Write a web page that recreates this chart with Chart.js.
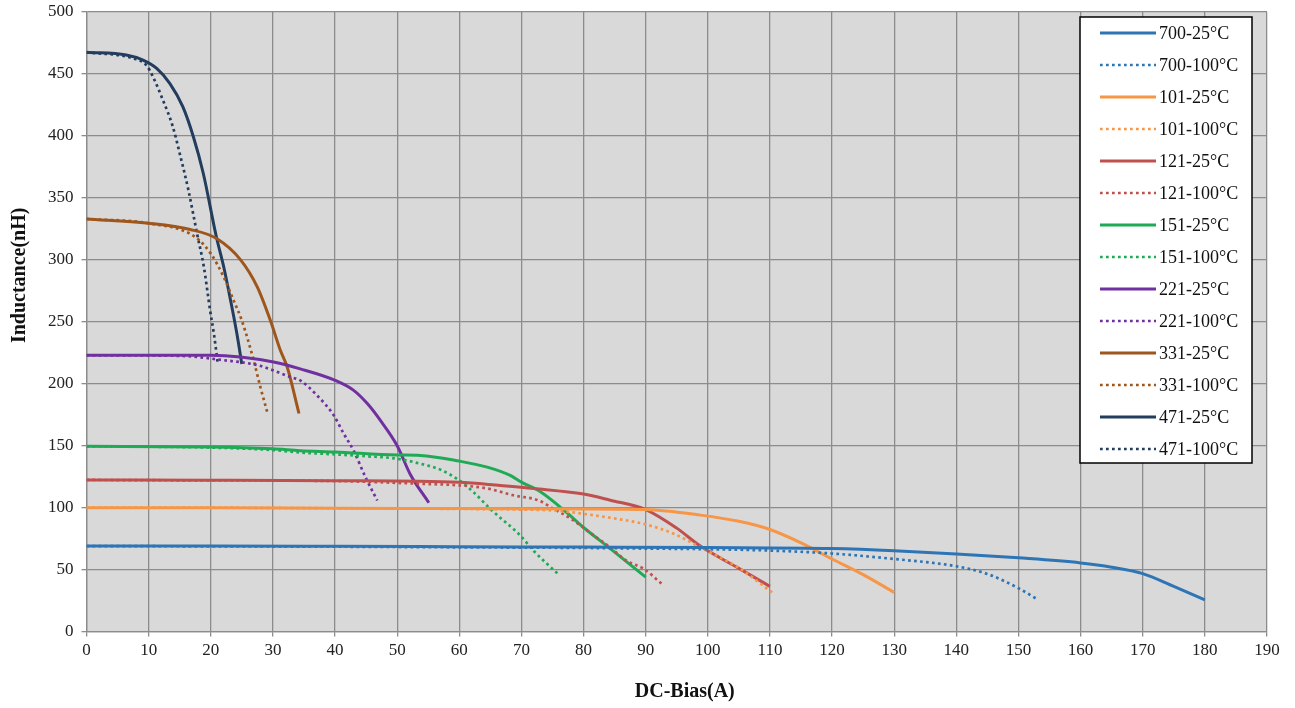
<!DOCTYPE html>
<html>
<head>
<meta charset="utf-8">
<style>
  html, body { margin: 0; padding: 0; background: #ffffff; }
  #wrap { width: 1295px; height: 708px; }
</style>
<script src="https://cdn.jsdelivr.net/npm/chart.js@4.4.1/dist/chart.umd.min.js"></script>
</head>
<body>
<div id="wrap"><canvas id="c" width="1295" height="708"></canvas></div>
<script>
// ---- Data ----
const seriesNames = ["700-25°C","700-100°C","101-25°C","101-100°C","121-25°C","121-100°C",
                     "151-25°C","151-100°C","221-25°C","221-100°C","331-25°C","331-100°C",
                     "471-25°C","471-100°C"];

const bias700_25 = [0,20,40,60,80,100,120,130,140,150,160,165,170,175,180];
const ind700_25  = [69,69,68.8,68.5,68.2,67.8,67,65.3,62.7,59.5,55.4,52,46.8,36.5,25.7];
const bias700_100 = [0,20,40,60,80,90,100,110,120,130,140,145,150,153];
const ind700_100  = [69,68.8,68.5,68,67.5,67,66.5,65.4,63,58.6,52.7,46.5,35,26.2];

const bias101_25 = [0,20,40,60,80,90,98.8,105,110,115,120,125,130];
const ind101_25  = [100,100,99.5,99.3,99,98.5,94,89,82.4,71.6,58.6,46,31.6];
const bias101_100 = [0,20,40,60,70,76,80,85.4,89.6,94.5,98.8,105,110.5];
const ind101_100  = [100,100,99.5,99,98.5,97.5,95,91,87,79,68,51.4,31];

const bias121_25 = [0,20,40,60,66.6,72,80,84.3,90,95,98.8,105,110];
const ind121_25  = [122.4,122.2,121.8,120.5,117.9,115.5,111,106,98.5,83.5,69,51,36.5];
const bias121_100 = [0,20,40,53.7,60,64.5,68.7,72.8,75.2,78,81,84,87,89.7,92.6];
const ind121_100  = [122.4,122,121.5,119.3,118,115.5,110,105.8,99,91,80,69,57,50.6,38.5];

const bias151_25 = [0,20,30,34.4,40,50,53.7,60,64.5,68.2,70,73,77.3,80,84.3,90];
const ind151_25  = [149.5,149,147.5,146,145,142.5,142.2,137.6,132.7,126,120.6,113,96,84,67,44];
const bias151_100 = [0,20,30,34.4,40,45,50,53.7,57,60,62.3,65,67.1,69,70.1,72,76];
const ind151_100  = [149.5,148.5,146.5,144.5,143,141.5,139.5,135.5,130.6,122,112.5,99,89.7,81.6,76,65,46];

const bias221_25 = [0,20,24.8,30.1,34.4,40,43,45.2,47.3,50,52.1,55.1];
const ind221_25  = [223,223,221.6,217.5,212,202.8,194.7,184,170.4,150,127,104];
const bias221_100 = [0,15,22.1,27.5,32.8,34.4,37.1,39.8,41.4,43,44.9,46.8];
const ind221_100  = [223,222.5,219,215,205.5,202.7,190.6,174.5,159.7,146,124.6,105.8];

const bias331_25 = [0,10,16.7,21,24.8,27.5,29.6,31.2,32.3,34.2];
const ind331_25  = [333,329.5,324.5,317,300,278,251,227,213.5,176];
const bias331_100 = [0,10,17.5,20,22.1,23.7,25,26.9,28,29.1];
const ind331_100  = [333,329.5,318.5,305,286,267,251,219,197,177];

const bias471_25 = [0,6.4,9.1,11.3,13.4,15.5,17.2,18.8,20.9,22.1,23.2,24.2,25];
const ind471_25  = [467.5,465.3,461.2,454.5,442.4,423.6,399.3,369.7,318.6,294,267,240.5,216];
const bias471_100 = [0,7.5,9.65,10.7,12.3,13.9,15,16.4,17.8,18.9,19.9,20.5,21.1];
const ind471_100  = [467.5,462.6,457,447.7,428.9,407.4,385.9,356.3,321,294,259,240.5,217.5];

const xTicks = [0,10,20,30,40,50,60,70,80,90,100,110,120,130,140,150,160,170,180,190];
const yTicks = [0,50,100,150,200,250,300,350,400,450,500];
const xTitle = "DC-Bias(A)";
const yTitle = "Inductance(nH)";

// ---- Styles ----
const colors = ["#2E75B6","#2E75B6","#F79646","#F79646","#C0504D","#C0504D",
                "#1FAA55","#1FAA55","#7030A0","#7030A0","#9E561C","#9E561C",
                "#233D5E","#233D5E"];

const xs = [bias700_25,bias700_100,bias101_25,bias101_100,bias121_25,bias121_100,
            bias151_25,bias151_100,bias221_25,bias221_100,bias331_25,bias331_100,
            bias471_25,bias471_100];
const ys = [ind700_25,ind700_100,ind101_25,ind101_100,ind121_25,ind121_100,
            ind151_25,ind151_100,ind221_25,ind221_100,ind331_25,ind331_100,
            ind471_25,ind471_100];

const datasets = seriesNames.map((name, i) => {
  const dotted = i % 2 === 1;
  return {
    label: name,
    data: xs[i].map((x, k) => ({ x: x, y: ys[i][k] })),
    showLine: true,
    borderColor: colors[i],
    backgroundColor: colors[i],
    borderWidth: dotted ? 2.7 : 3,
    borderDash: dotted ? [2.7, 3.3] : [],
    pointRadius: 0,
    pointHoverRadius: 0,
    cubicInterpolationMode: 'monotone',
    fill: false
  };
});

const serif = "'Liberation Serif', 'DejaVu Serif', serif";

const bgPlugin = {
  id: 'plotBg',
  beforeDraw(chart) {
    const a = chart.chartArea, ctx = chart.ctx;
    ctx.save();
    ctx.fillStyle = '#D9D9D9';
    ctx.fillRect(a.left, a.top, a.right - a.left, a.bottom - a.top);
    ctx.restore();
  }
};

const titlesPlugin = {
  id: 'axisTitles',
  afterDraw(chart) {
    const a = chart.chartArea, ctx = chart.ctx;
    ctx.save();
    ctx.fillStyle = '#111111';
    ctx.font = "bold 20px " + serif;
    ctx.textAlign = 'center';
    ctx.textBaseline = 'middle';
    ctx.fillText(xTitle, (a.left + a.right) / 2 + 8, a.bottom + 60);
    ctx.translate(a.left - 67, a.top + (a.bottom - a.top) * 0.425);
    ctx.rotate(-Math.PI / 2);
    ctx.fillText(yTitle, 0, 0);
    ctx.restore();
  }
};

const legendPlugin = {
  id: 'boxLegend',
  afterDraw(chart) {
    const a = chart.chartArea, ctx = chart.ctx;
    const w = 172, rowH = 32;
    const h = 446;
    const right = a.right - 15, top = a.top + 5;
    const left = right - w;
    ctx.save();
    ctx.fillStyle = '#ffffff';
    ctx.fillRect(left, top, w, h);
    ctx.strokeStyle = '#000000';
    ctx.lineWidth = 1.5;
    ctx.strokeRect(left, top, w, h);
    ctx.font = "18px " + serif;
    ctx.textBaseline = 'middle';
    chart.data.datasets.forEach((ds, i) => {
      const y = top + 16 + i * rowH;
      ctx.beginPath();
      ctx.strokeStyle = ds.borderColor;
      ctx.lineWidth = ds.borderWidth;
      ctx.setLineDash(ds.borderDash || []);
      ctx.moveTo(left + 20, y);
      ctx.lineTo(left + 76, y);
      ctx.stroke();
      ctx.setLineDash([]);
      ctx.fillStyle = '#111111';
      ctx.fillText(ds.label, left + 79, y + 1);
    });
    ctx.restore();
  }
};

new Chart(document.getElementById('c'), {
  type: 'scatter',
  data: { datasets: datasets },
  options: {
    responsive: false,
    animation: false,
    devicePixelRatio: 1,
    layout: { padding: { top: 12, right: 28, bottom: 43, left: 40 } },
    plugins: {
      legend: { display: false },
      tooltip: { enabled: false }
    },
    scales: {
      x: {
        type: 'linear',
        min: 0, max: 190,
        afterBuildTicks(axis) { axis.ticks = xTicks.map(v => ({ value: v })); },
        ticks: { color: '#222', font: { family: serif, size: 17 }, padding: 4, maxRotation: 0, autoSkip: false },
        grid: { color: '#8C8C8C', lineWidth: 1.3, tickLength: 5, drawTicks: true },
        border: { color: '#8C8C8C', width: 1.3 }
      },
      y: {
        type: 'linear',
        min: 0, max: 500,
        afterBuildTicks(axis) { axis.ticks = yTicks.map(v => ({ value: v })); },
        afterFit(axis) { axis.paddingTop = 0; },
        ticks: { color: '#222', font: { family: serif, size: 17 }, padding: 8, autoSkip: false },
        grid: { color: '#8C8C8C', lineWidth: 1.3, tickLength: 5, drawTicks: true },
        border: { color: '#8C8C8C', width: 1.3 }
      }
    }
  },
  plugins: [bgPlugin, titlesPlugin, legendPlugin]
});
</script>
</body>
</html>
